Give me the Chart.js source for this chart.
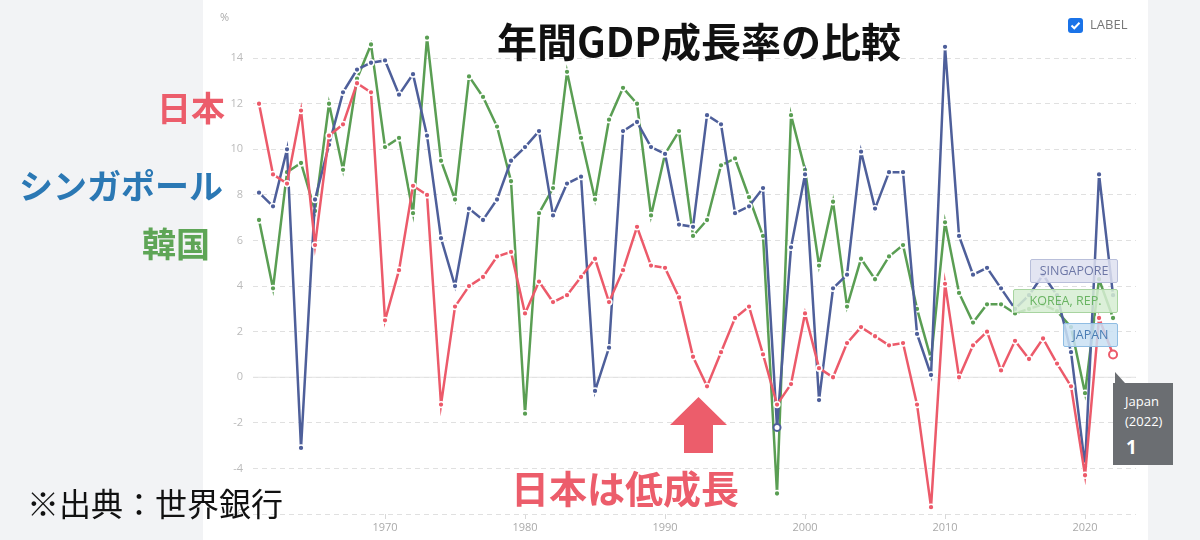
<!DOCTYPE html>
<html>
<head>
<meta charset="utf-8">
<script src="https://cdn.jsdelivr.net/npm/chart.js@4.4.1/dist/chart.umd.min.js"></script>
<style>
  body { margin: 0; background: #f2f3f5; }
  #wrap { position: relative; width: 1200px; height: 540px; overflow: hidden; font-family: "Noto Sans CJK JP", "Noto Sans", sans-serif; }
  #chart { position: absolute; left: 0; top: 0; }
  .txt { position: absolute; white-space: nowrap; line-height: 1; }
  .tag { position: absolute; font-family: "Open Sans", "Noto Sans", sans-serif; font-size: 12.5px; line-height: 22px; text-align: center; border-radius: 2px; box-sizing: border-box; }
</style>
</head>
<body>
<div id="wrap">
  <canvas id="chart" width="1200" height="540"></canvas>

  <div class="txt" style="left:0;width:1398px;top:20px;text-align:center;font-size:40px;font-weight:bold;color:#111;">年間GDP成長率の比較</div>
  <div class="txt" style="right:975px;top:90px;font-size:34px;font-weight:bold;color:#ec5d6b;">日本</div>
  <div class="txt" style="right:977px;top:168px;font-size:34px;font-weight:bold;color:#2b78b4;">シンガポール</div>
  <div class="txt" style="right:990px;top:226px;font-size:34px;font-weight:bold;color:#5ea556;">韓国</div>
  <div class="txt" style="left:27px;top:486px;font-size:32px;color:#111;">※出典：世界銀行</div>
  <div class="txt" style="left:511px;top:468px;font-size:38px;font-weight:bold;color:#ec5d6b;">日本は低成長</div>

  <div class="txt" style="left:220px;top:11px;font-size:11px;color:#aaa;font-family:'Open Sans',sans-serif;">%</div>

  <div style="position:absolute;left:1068px;top:18px;width:15px;height:15px;background:#1a73e8;border-radius:3px;"></div>
  <svg style="position:absolute;left:1068px;top:18px;" width="15" height="15"><path d="M3.5 7.5 L6.3 10.3 L11.5 4.8" stroke="#fff" stroke-width="2" fill="none"/></svg>
  <div class="txt" style="left:1090px;top:18px;font-size:13px;color:#777;font-family:'Open Sans',sans-serif;">LABEL</div>

  <div class="tag" style="left:1030px;top:259px;width:88px;height:24px;background:rgba(222,225,240,0.85);border:1px solid #b9bfda;color:#6d77a6;">SINGAPORE</div>
  <div class="tag" style="left:1013px;top:289px;width:105px;height:24px;background:rgba(214,237,210,0.85);border:1px solid #a8d4a0;color:#69b462;">KOREA, REP.</div>
  <div class="tag" style="left:1063px;top:323px;width:55px;height:24px;background:rgba(201,224,243,0.85);border:1px solid #8fbde3;color:#4a7db4;">JAPAN</div>

  <svg style="position:absolute;left:1113px;top:372px;" width="12" height="12"><path d="M2 0 L12 11 L2 11 Z" fill="#6b6e72"/></svg>
  <div style="position:absolute;left:1113px;top:383px;width:60px;height:82px;background:#6b6e72;color:#fff;font-family:'Open Sans',sans-serif;">
    <div style="position:absolute;left:12px;top:8px;font-size:13px;line-height:20px;">Japan<br>(2022)</div>
    <div style="position:absolute;left:13px;top:51px;font-size:19px;font-weight:bold;">1</div>
  </div>
</div>

<script>
// years on the x axis
var years = [1961, 1962, 1963, 1964, 1965, 1966, 1967, 1968, 1969, 1970,
             1971, 1972, 1973, 1974, 1975, 1976, 1977, 1978, 1979, 1980,
             1981, 1982, 1983, 1984, 1985, 1986, 1987, 1988, 1989, 1990,
             1991, 1992, 1993, 1994, 1995, 1996, 1997, 1998, 1999, 2000,
             2001, 2002, 2003, 2004, 2005, 2006, 2007, 2008, 2009, 2010,
             2011, 2012, 2013, 2014, 2015, 2016, 2017, 2018, 2019, 2020,
             2021, 2022];

// GDP growth (%)
var japan = [12.0, 8.9, 8.5, 11.7, 5.8, 10.6, 11.1, 12.9, 12.5, 2.5,
             4.7, 8.4, 8.0, -1.2, 3.1, 4.0, 4.4, 5.3, 5.5, 2.8,
             4.2, 3.3, 3.6, 4.4, 5.2, 3.3, 4.7, 6.6, 4.9, 4.8,
             3.5, 0.9, -0.4, 1.1, 2.6, 3.1, 1.0, -1.2, -0.3, 2.8,
             0.4, 0.0, 1.5, 2.2, 1.8, 1.4, 1.5, -1.2, -5.7, 4.1,
             0.0, 1.4, 2.0, 0.3, 1.6, 0.8, 1.7, 0.6, -0.4, -4.3,
             2.6, 1.0];
var singapore = [8.1, 7.5, 10.0, -3.1, 7.8, 10.2, 12.5, 13.5, 13.8, 13.9,
                 12.4, 13.3, 10.6, 6.1, 4.0, 7.4, 6.9, 7.8, 9.5, 10.1,
                 10.8, 7.1, 8.5, 8.8, -0.6, 1.3, 10.8, 11.2, 10.1, 9.8,
                 6.7, 6.6, 11.5, 11.1, 7.2, 7.5, 8.3, -2.2, 5.7, 8.9,
                 -1.0, 3.9, 4.5, 9.9, 7.4, 9.0, 9.0, 1.9, 0.1, 14.5,
                 6.2, 4.5, 4.8, 3.9, 3.0, 3.6, 4.5, 3.6, 1.1, -3.9,
                 8.9, 3.6];
var korea = [6.9, 3.9, 9.0, 9.4, 7.3, 12.0, 9.1, 13.1, 14.6, 10.1,
             10.5, 7.2, 14.9, 9.5, 7.8, 13.2, 12.3, 11.0, 8.6, -1.6,
             7.2, 8.3, 13.4, 10.5, 7.8, 11.3, 12.7, 12.0, 7.1, 9.8,
             10.8, 6.2, 6.9, 9.3, 9.6, 7.9, 6.2, -5.1, 11.5, 9.1,
             4.9, 7.7, 3.1, 5.2, 4.3, 5.3, 5.8, 3.0, 0.8, 6.8,
             3.7, 2.4, 3.2, 3.2, 2.8, 3.0, 3.2, 2.9, 2.2, -0.7,
             4.3, 2.6];

var xTicks = [1970, 1980, 1990, 2000, 2010, 2020];
var yTicks = [-6, -4, -2, 0, 2, 4, 6, 8, 10, 12, 14];

var RED = '#ec5a6a';
var BLUE = '#4e5f9a';
var GREEN = '#5a9e53';

function pts(arr) {
    return years.map(function (y, i) { return { x: y, y: arr[i] }; });
}

function series(label, arr, color, hoverIdx, hoverR) {
    return {
        label: label,
        data: pts(arr),
        borderColor: color,
        backgroundColor: color,
        borderWidth: 2.5,
        tension: 0,
        pointRadius: function (c) { return c.dataIndex === hoverIdx ? hoverR : 2.9; },
        pointBackgroundColor: function (c) { return c.dataIndex === hoverIdx ? '#fff' : color; },
        pointBorderColor: function (c) { return c.dataIndex === hoverIdx ? color : '#fff'; },
        pointBorderWidth: function (c) { return c.dataIndex === hoverIdx ? 2 : 1.5; }
    };
}

// page background, zero line and the red arrow
var decor = {
    id: 'decor',
    beforeDraw: function (chart) {
        var ctx = chart.ctx;
        ctx.save();
        ctx.fillStyle = '#f2f3f5';
        ctx.fillRect(0, 0, 1200, 540);
        ctx.fillStyle = '#ffffff';
        ctx.fillRect(203, 0, 945, 540);
        ctx.restore();
    },
    beforeDatasetsDraw: function (chart) {
        var ctx = chart.ctx;
        var y0 = chart.scales.y.getPixelForValue(0);
        ctx.save();
        ctx.strokeStyle = '#e2e2e2';
        ctx.lineWidth = 1;
        ctx.beginPath();
        ctx.moveTo(chart.chartArea.left, y0);
        ctx.lineTo(chart.chartArea.right, y0);
        ctx.stroke();
        ctx.restore();
    },
    afterDraw: function (chart) {
        var ctx = chart.ctx;
        ctx.save();
        ctx.fillStyle = '#ec5d6b';
        ctx.beginPath();
        ctx.moveTo(698.5, 397);
        ctx.lineTo(727, 425);
        ctx.lineTo(713, 425);
        ctx.lineTo(713, 453);
        ctx.lineTo(684, 453);
        ctx.lineTo(684, 425);
        ctx.lineTo(670, 425);
        ctx.closePath();
        ctx.fill();
        ctx.restore();
    }
};

var ctx = document.getElementById('chart').getContext('2d');
var myChart = new Chart(ctx, {
    type: 'line',
    data: {
        datasets: [
            series('Japan', japan, RED, 61, 4),
            series('Singapore', singapore, BLUE, 37, 3.5),
            series('Korea, Rep.', korea, GREEN, -1, 0)
        ]
    },
    options: {
        responsive: false,
        animation: false,
        events: [],
        layout: { padding: { left: 203, right: 64, top: 24, bottom: 0 } },
        plugins: {
            legend: { display: false },
            tooltip: { enabled: false }
        },
        scales: {
            x: {
                type: 'linear',
                min: 1960.57,
                max: 2023.64,
                afterBuildTicks: function (scale) {
                    scale.ticks = xTicks.map(function (v) { return { value: v }; });
                },
                afterFit: function (scale) { scale.height = 26; },
                ticks: {
                    color: '#aaa',
                    font: { family: 'Open Sans', size: 11 },
                    padding: 2,
                    maxRotation: 0,
                    callback: function (v) { return String(v); }
                },
                grid: { drawOnChartArea: false, color: '#d8d8d8', tickLength: 5 },
                border: { display: false }
            },
            y: {
                min: -6,
                max: 15.5,
                afterBuildTicks: function (scale) {
                    scale.ticks = yTicks.map(function (v) { return { value: v }; });
                },
                afterFit: function (scale) { scale.width = 50; },
                ticks: {
                    color: '#bbb',
                    font: { family: 'Open Sans', size: 11 },
                    padding: 10
                },
                grid: { color: '#e0e0e0', drawTicks: false, lineWidth: 1 },
                border: { display: false, dash: [5, 4] }
            }
        }
    },
    plugins: [decor]
});
</script>
</body>
</html>
